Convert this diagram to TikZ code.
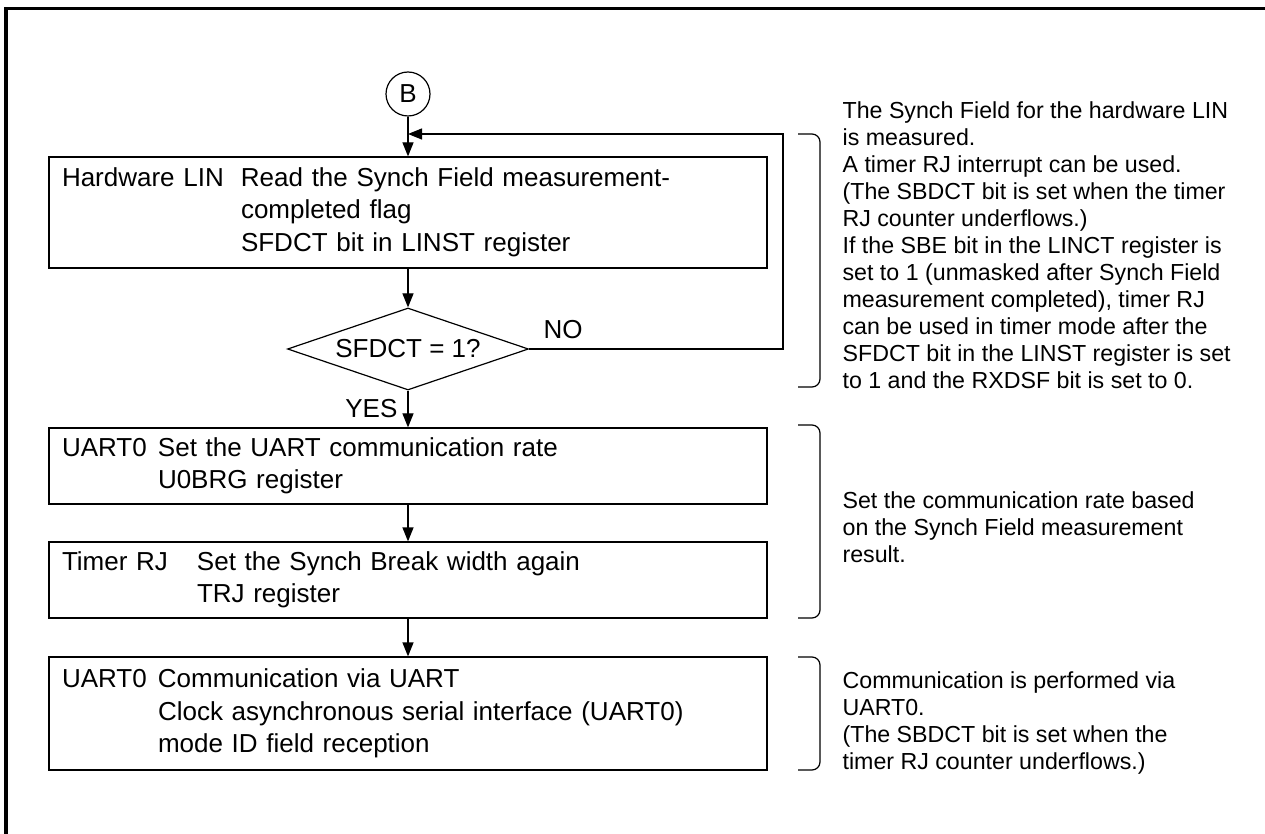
\documentclass[tikz,border=0pt]{standalone}
\usepackage{fontspec}
\setmainfont{Liberation Sans}
\usetikzlibrary{arrows.meta}
\usetikzlibrary{shapes.geometric}
\newcommand\flowfont{\fontsize{13}{16.25}\selectfont}
\newcommand\notefont{\fontsize{11.6}{13.5}\selectfont}

\begin{document}
\begin{tikzpicture}[x=0.5pt,y=-0.5pt,line width=0.6pt,
  >={Triangle[length=7pt,width=5.5pt]},
  procbox/.style={draw,minimum width=359pt,text width=346pt,inner xsep=6.5pt,inner ysep=0pt,align=left,font=\flowfont},
  note/.style={anchor=north west,inner sep=0pt,align=left,font=\notefont},
  brace/.style={rounded corners=4pt}]
\useasboundingbox (0,0) rectangle (1265,834);
\draw[line width=1.6pt] (6,834) -- (6,8.3) -- (1265,8.3);

\node[draw,circle,minimum size=22pt,inner sep=0pt,font=\flowfont] (b) at (408,94) {B};
\node[procbox,minimum height=55.5pt] (read) at (408,212.5) {\begin{tabular}{@{}p{89.5pt}@{}l@{}}
Hardware LIN & Read the Synch Field measurement-\\
 & completed flag\\
 & SFDCT bit in LINST register
\end{tabular}};
\node[draw,diamond,aspect=2.94,inner sep=0pt,minimum width=120.5pt,minimum height=41pt,font=\flowfont] (check) at (408,349) {SFDCT = 1?};
\node[font=\flowfont,inner sep=0pt] (no) at (563,330) {NO};
\node[procbox,minimum height=38pt] (rate) at (408,466) {\begin{tabular}{@{}p{48pt}@{}l@{}}
UART0 & Set the UART communication rate\\
 & U0BRG register
\end{tabular}};
\node[procbox,minimum height=38pt] (brk) at (408,580) {\begin{tabular}{@{}p{67.5pt}@{}l@{}}
Timer RJ & Set the Synch Break width again\\
 & TRJ register
\end{tabular}};
\node[procbox,minimum height=56.5pt] (comm) at (408,713.5) {\begin{tabular}{@{}p{48pt}@{}l@{}}
UART0 & Communication via UART\\
 & Clock asynchronous serial interface (UART0)\\
 & mode ID field reception
\end{tabular}};

\coordinate (join) at (408,134);
\coordinate (turn) at (783,134);
\draw[->] (b) -- (read);
\draw[->] (read) -- (check);
\draw[->] (check.east) -| (turn) -- (join);
\draw[->] (check) -- node[anchor=east,inner sep=0pt,xshift=-5pt,font=\flowfont] (yes) {YES} (rate);
\draw[->] (rate) -- (brk);
\draw[->] (brk) -- (comm);

% notes on the right
\draw[brace] (798,134) -| (820,387) -- (798,387);
\node[note] (note1) at (842,101) {The Synch Field for the hardware LIN\\
is measured.\\
A timer RJ interrupt can be used.\\
(The SBDCT bit is set when the timer\\
RJ counter underflows.)\\
If the SBE bit in the LINCT register is\\
set to 1 (unmasked after Synch Field\\
measurement completed), timer RJ\\
can be used in timer mode after the\\
SFDCT bit in the LINST register is set\\
to 1 and the RXDSF bit is set to 0.};
\draw[brace] (798,425) -| (820,618) -- (798,618);
\node[note] (note2) at (842,491) {Set the communication rate based\\
on the Synch Field measurement\\
result.};
\draw[brace] (798,657) -| (820,770) -- (798,770);
\node[note] (note3) at (842,671) {Communication is performed via\\
UART0.\\
(The SBDCT bit is set when the\\
timer RJ counter underflows.)};
\end{tikzpicture}
\end{document}
